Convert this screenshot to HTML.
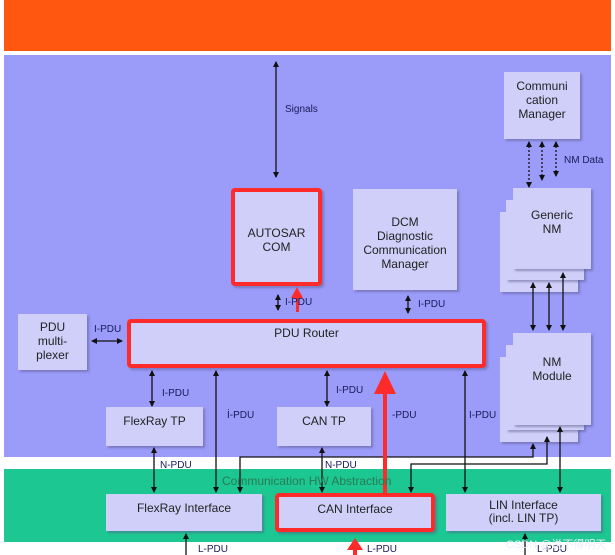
<!DOCTYPE html>
<html><head><meta charset="utf-8"><style>
body{margin:0;width:615px;height:555px;background:#fff;position:relative;overflow:hidden;font-family:"Liberation Sans","Noto Sans CJK SC",sans-serif;}
.a{position:absolute;box-sizing:border-box}
.b{position:absolute;box-sizing:border-box;background:#cfcff9;box-shadow:2px 2px 2px rgba(90,90,140,.5);color:#222;font-size:12px;text-align:center;line-height:14px}
.r{border:4px solid #ff2a2a;border-radius:4px}
.l{position:absolute;font-size:10px;color:#1a1a5a}
</style></head><body>
<div class="a" style="left:4px;top:0;width:607px;height:51px;background:#ff570f"></div>
<div class="a" style="left:4px;top:55px;width:607px;height:402px;background:#9b9bf9"></div>
<div class="a" style="left:4px;top:469px;width:607px;height:73px;background:#1cc792"></div>

<div class="b" style="left:504px;top:72px;width:76px;height:67px;padding-top:7px">Communi<br>cation<br>Manager</div>
<div class="b" style="left:500px;top:212px;width:78px;height:80px"></div>
<div class="b" style="left:506px;top:200px;width:78px;height:80px"></div>
<div class="b" style="left:513px;top:188px;width:78px;height:81px;padding-top:20px">Generic<br>NM</div>
<div class="b" style="left:500px;top:357px;width:78px;height:85px"></div>
<div class="b" style="left:506px;top:345px;width:78px;height:85px"></div>
<div class="b" style="left:513px;top:333px;width:78px;height:92px;padding-top:22px">NM<br>Module</div>

<div class="b r" style="left:231px;top:188px;width:91px;height:98px;padding-top:34px">AUTOSAR<br>COM</div>
<div class="b" style="left:353px;top:189px;width:104px;height:101px;padding-top:26px">DCM<br>Diagnostic<br>Communication<br>Manager</div>
<div class="b" style="left:18px;top:314px;width:69px;height:56px;padding-top:6px">PDU<br>multi-<br>plexer</div>
<div class="b r" style="left:127px;top:319px;width:359px;height:49px;padding-top:3px">PDU Router</div>
<div class="b" style="left:106px;top:407px;width:97px;height:39px;padding-top:7px">FlexRay TP</div>
<div class="b" style="left:277px;top:407px;width:94px;height:39px;padding-top:7px">CAN TP</div>
<div class="b" style="left:106px;top:494px;width:156px;height:37px;padding-top:7px">FlexRay Interface</div>
<div class="b r" style="left:275px;top:493px;width:160px;height:39px;padding-top:5px">CAN Interface</div>
<div class="b" style="left:446px;top:494px;width:155px;height:37px;padding-top:5px;line-height:13px">LIN Interface<br>(incl. LIN TP)</div>

<svg class="a" style="left:0;top:0" width="615" height="555">
<defs>
<marker id="m" markerWidth="6" markerHeight="6" refX="5" refY="3" orient="auto-start-reverse" markerUnits="userSpaceOnUse"><path d="M0,0L6,3L0,6z" fill="#111"/></marker>
</defs>
<g stroke="#111" stroke-width="1.3" fill="none">
<line x1="276" y1="62" x2="276" y2="177" marker-start="url(#m)" marker-end="url(#m)"/>
<line x1="278" y1="295" x2="278" y2="310" marker-start="url(#m)" marker-end="url(#m)"/>
<line x1="408" y1="296" x2="408" y2="313" marker-start="url(#m)" marker-end="url(#m)"/>
<line x1="92" y1="341" x2="122" y2="341" marker-start="url(#m)" marker-end="url(#m)"/>
<line x1="152" y1="371" x2="152" y2="406" marker-start="url(#m)" marker-end="url(#m)"/>
<line x1="216" y1="371" x2="216" y2="492" marker-start="url(#m)" marker-end="url(#m)"/>
<line x1="327" y1="371" x2="327" y2="406" marker-start="url(#m)" marker-end="url(#m)"/>
<line x1="465" y1="371" x2="465" y2="492" marker-start="url(#m)" marker-end="url(#m)"/>
<line x1="154" y1="448" x2="154" y2="492" marker-start="url(#m)" marker-end="url(#m)"/>
<line x1="322" y1="448" x2="322" y2="492" marker-start="url(#m)" marker-end="url(#m)"/>
<polyline points="240,492 240,457 533,457 533,444" marker-start="url(#m)" marker-end="url(#m)"/>
<polyline points="411,492 411,464 547,464 547,437" marker-start="url(#m)" marker-end="url(#m)"/>
<line x1="560" y1="427" x2="560" y2="492" marker-start="url(#m)" marker-end="url(#m)"/>
<line x1="533" y1="283" x2="533" y2="330" marker-start="url(#m)" marker-end="url(#m)"/>
<line x1="549" y1="283" x2="549" y2="330" marker-start="url(#m)" marker-end="url(#m)"/>
<line x1="563" y1="273" x2="563" y2="330" marker-start="url(#m)" marker-end="url(#m)"/>
<g stroke-dasharray="2,2">
<line x1="529" y1="142" x2="529" y2="187" marker-start="url(#m)" marker-end="url(#m)"/>
<line x1="542" y1="142" x2="542" y2="180" marker-start="url(#m)" marker-end="url(#m)"/>
<line x1="556" y1="142" x2="556" y2="176" marker-start="url(#m)" marker-end="url(#m)"/>
</g>
<line x1="186" y1="555" x2="186" y2="534" marker-end="url(#m)"/>
<line x1="525" y1="555" x2="525" y2="534" marker-end="url(#m)"/>
</g>
<g fill="#ff2a2a" stroke="none">
<rect x="296" y="296" width="3" height="16"/><path d="M291,298L297,287L303,298z"/>
<rect x="383" y="390" width="4" height="103"/><path d="M374,394L385,371L396,394z"/>
<rect x="353" y="548" width="4" height="7"/><path d="M347,550L355,538L363,550z"/>
</g>
</svg>

<div class="l" style="left:285px;top:104px">Signals</div>
<div class="l" style="left:285px;top:297px">I-PDU</div>
<div class="l" style="left:418px;top:299px">I-PDU</div>
<div class="l" style="left:94px;top:324px">I-PDU</div>
<div class="l" style="left:162px;top:388px">I-PDU</div>
<div class="l" style="left:227px;top:410px">İ-PDU</div>
<div class="l" style="left:336px;top:385px">I-PDU</div>
<div class="l" style="left:392px;top:410px">-PDU</div>
<div class="l" style="left:469px;top:410px">I-PDU</div>
<div class="l" style="left:160px;top:460px">N-PDU</div>
<div class="l" style="left:325px;top:460px">N-PDU</div>
<div class="l" style="left:564px;top:155px">NM Data</div>
<div class="l" style="left:222px;top:474px;font-size:12px;color:#2a7a55">Communication HW Abstraction</div>
<div class="l" style="left:198px;top:544px">L-PDU</div>
<div class="l" style="left:367px;top:544px">L-PDU</div>
<div class="l" style="left:537px;top:544px">L-PDU</div>
<div class="l" style="left:506px;top:536px;font-size:11px;color:#eef">CSDN @说不得明天</div>
</body></html>
